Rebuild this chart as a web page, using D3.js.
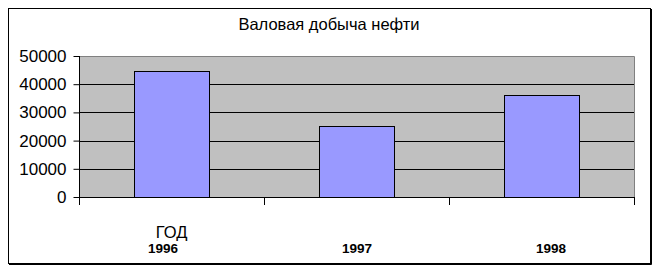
<!DOCTYPE html>
<html>
<head>
<meta charset="utf-8">
<script src="https://cdn.jsdelivr.net/npm/d3@7"></script>
<style>
  body { margin: 0; background: #fff; }
  svg { display: block; }
</style>
</head>
<body>
<svg id="chart"></svg>
<script>
// данные
const years = ["1996", "1997", "1998"];
const output = [44600, 25200, 36100];
const yTicks = [0, 10000, 20000, 30000, 40000, 50000];
const chartTitle = "Валовая добыча нефти";
const axisTitle = "ГОД";

const width = 660, height = 272;
const plot = { left: 79, top: 56, right: 634, bottom: 197 };

const svg = d3.select("#chart")
  .attr("width", width)
  .attr("height", height)
  .style("font-family", "Arial, 'Liberation Sans', sans-serif");

// рамка с тенью
svg.append("rect")
  .attr("x", 8.5).attr("y", 8.5)
  .attr("width", 642).attr("height", 255)
  .attr("fill", "#fff")
  .attr("stroke", "#000")
  .attr("stroke-width", 1);
svg.append("path")
  .attr("d", "M651.5,9 V264.5 H9")
  .attr("fill", "none")
  .attr("stroke", "#000")
  .attr("stroke-width", 1);

const x = d3.scaleBand()
  .domain(years)
  .range([plot.left, plot.right])
  .paddingInner(0.595)
  .paddingOuter(0.2975);

const xCat = d3.scaleBand()
  .domain(years)
  .range([plot.left, plot.right]);

const y = d3.scaleLinear()
  .domain([0, 50000])
  .range([plot.bottom, plot.top]);

// фон области построения
svg.append("rect")
  .attr("x", plot.left)
  .attr("y", plot.top)
  .attr("width", plot.right - plot.left)
  .attr("height", plot.bottom - plot.top)
  .attr("fill", "#c0c0c0");

// линии сетки
svg.append("g")
  .selectAll("line")
  .data(yTicks.filter((d) => d > 0 && d < 50000))
  .join("line")
  .attr("x1", plot.left)
  .attr("x2", plot.right)
  .attr("y1", (d) => Math.round(y(d)) + 0.5)
  .attr("y2", (d) => Math.round(y(d)) + 0.5)
  .attr("stroke", "#000");

// серая граница сверху и справа
svg.append("path")
  .attr("d", `M${plot.left},${plot.top + 0.5} H${plot.right + 0.5} V${plot.bottom}`)
  .attr("fill", "none")
  .attr("stroke", "#808080");

// столбцы
svg.append("g")
  .selectAll("rect")
  .data(years.map((d, i) => ({ year: d, value: output[i] })))
  .join("rect")
  .attr("x", (d) => Math.round(x(d.year)) + 0.5)
  .attr("y", (d) => Math.round(y(d.value)) + 0.5)
  .attr("width", Math.round(x.bandwidth()))
  .attr("height", (d) => Math.round(y(0)) - Math.round(y(d.value)))
  .attr("fill", "#9999ff")
  .attr("stroke", "#000");

// ось Y
const yAxis = svg.append("g")
  .attr("transform", `translate(${plot.left + 0.5},0)`)
  .call(d3.axisLeft(y).tickValues(yTicks).tickSize(6).tickPadding(7).tickFormat(d3.format("d")));
yAxis.select(".domain").attr("d", `M0,${plot.top}V${plot.bottom + 8}`);
yAxis.selectAll(".tick line").attr("stroke", "#000");
yAxis.selectAll("text")
  .attr("font-size", 17)
  .attr("font-family", "Arial, 'Liberation Sans', sans-serif")
  .attr("fill", "#000");

// ось X: деления на границах категорий
svg.append("line")
  .attr("x1", plot.left).attr("x2", plot.right + 1)
  .attr("y1", plot.bottom + 0.5).attr("y2", plot.bottom + 0.5)
  .attr("stroke", "#000");
svg.append("g")
  .selectAll("line")
  .data(years.slice(1).map((d) => xCat(d)).concat([plot.right]))
  .join("line")
  .attr("x1", (d) => Math.round(d) + 0.5)
  .attr("x2", (d) => Math.round(d) + 0.5)
  .attr("y1", plot.bottom)
  .attr("y2", plot.bottom + 8)
  .attr("stroke", "#000");

// подписи годов
const xLabel = d3.scalePoint()
  .domain(years)
  .range([163, 551]);
svg.append("g")
  .selectAll("text")
  .data(years)
  .join("text")
  .attr("x", (d) => xLabel(d))
  .attr("y", 253)
  .attr("text-anchor", "middle")
  .attr("font-size", 13.5)
  .attr("font-weight", "bold")
  .text((d) => d);

// название оси
svg.append("text")
  .attr("x", xCat(years[0]) + xCat.bandwidth() / 2)
  .attr("y", 238)
  .attr("text-anchor", "middle")
  .attr("font-size", 16.5)
  .text(axisTitle);

// заголовок
svg.append("text")
  .attr("x", 329)
  .attr("y", 30)
  .attr("text-anchor", "middle")
  .attr("font-size", 16.5)
  .text(chartTitle);
</script>
</body>
</html>
